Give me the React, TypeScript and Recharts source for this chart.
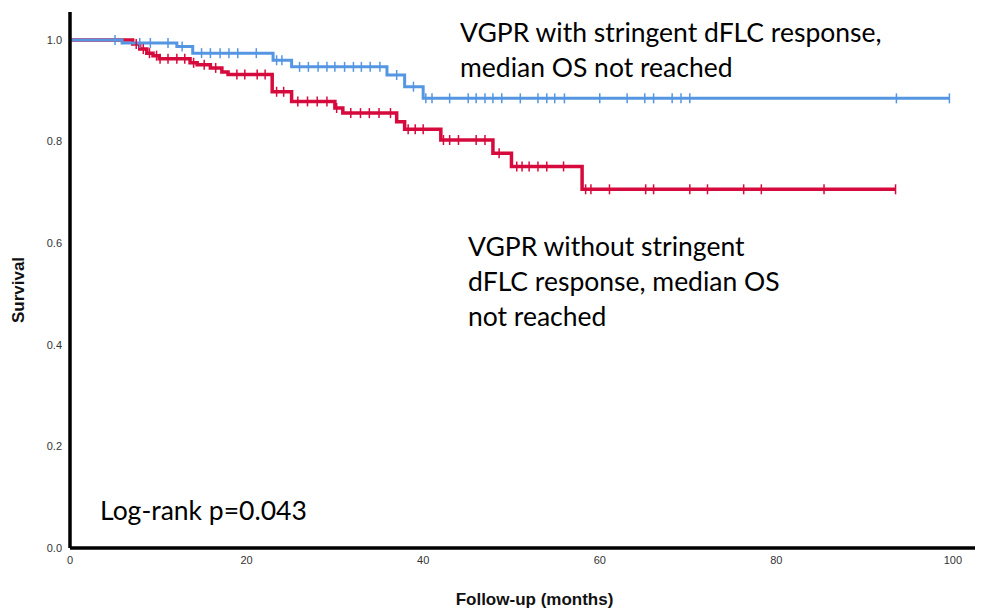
import React from "react";
import {
  ComposedChart,
  Line,
  Scatter,
  XAxis,
  YAxis,
} from "recharts";

// Kaplan-Meier step points (months, survival)
const STRINGENT_T = [0, 5.9, 12.1, 13.9, 23.0, 25.1, 35.9, 37.9, 40.0, 99.6];
const STRINGENT_S = [1.0, 0.994, 0.987, 0.974, 0.96, 0.947, 0.931, 0.908, 0.885, 0.885];

const NON_STRINGENT_T = [
  0, 7.1, 7.9, 8.7, 9.4, 10.1, 13.6, 14.4, 15.9, 17.2, 17.9, 22.9, 25.1, 30.0,
  30.9, 37.0, 37.9, 42.0, 47.9, 50.0, 58.0, 93.5,
];
const NON_STRINGENT_S = [
  1.0, 0.992, 0.982, 0.974, 0.969, 0.963, 0.955, 0.951, 0.945, 0.937, 0.932,
  0.898, 0.879, 0.866, 0.856, 0.839, 0.824, 0.803, 0.777, 0.751, 0.706, 0.706,
];

// censored observations (months)
const STRINGENT_CENSOR = [
  5.1, 7.9, 9.1, 11.1, 12.7, 14.9, 15.9, 17.0, 18.0, 19.0, 21.1, 23.4, 24.0,
  26.0, 27.0, 28.1, 29.1, 30.0, 31.1, 32.1, 33.0, 34.0, 35.1, 37.0, 38.9, 40.3,
  41.0, 43.0, 45.1, 46.0, 47.0, 47.9, 48.9, 51.0, 53.0, 54.0, 54.9, 56.0, 60.0,
  63.1, 65.1, 66.1, 68.2, 69.2, 70.2, 93.6, 99.6,
];
const NON_STRINGENT_CENSOR = [
  7.5, 8.3, 9.0, 9.8, 10.2, 11.1, 12.1, 13.0, 14.0, 15.2, 16.5, 18.9, 19.8,
  21.2, 22.1, 23.4, 24.2, 25.8, 26.9, 28.0, 29.1, 30.2, 31.8, 32.9, 33.9, 35.0,
  36.3, 38.3, 39.1, 40.0, 42.3, 43.0, 44.0, 46.0, 47.0, 48.6, 50.6, 51.2, 52.0,
  53.0, 54.0, 55.9, 58.4, 59.0, 61.1, 65.2, 66.1, 70.2, 72.2, 76.3, 78.3, 85.4,
  93.5,
];

const X_TICKS = [0, 20, 40, 60, 80, 100];
const Y_TICKS = [0, 0.2, 0.4, 0.6, 0.8, 1.0];

const BLUE = "#5596e2";
const RED = "#d60a3c";

const toSteps = (t: number[], s: number[]) => t.map((v, i) => ({ t: v, s: s[i] }));

// survival level of the step curve at a censoring time
const toCensor = (c: number[], t: number[], s: number[]) =>
  c.map((v) => {
    let k = 0;
    for (let i = 0; i < t.length; i++) if (t[i] <= v) k = i;
    return { t: v, s: s[k] };
  });

const stringentSteps = toSteps(STRINGENT_T, STRINGENT_S);
const nonStringentSteps = toSteps(NON_STRINGENT_T, NON_STRINGENT_S);
const stringentCensor = toCensor(STRINGENT_CENSOR, STRINGENT_T, STRINGENT_S);
const nonStringentCensor = toCensor(NON_STRINGENT_CENSOR, NON_STRINGENT_T, NON_STRINGENT_S);

const censorMark = (color: string) => (props: any) => {
  const { cx, cy } = props;
  return (
    <line x1={cx} x2={cx} y1={cy - 5} y2={cy + 5} stroke={color} strokeWidth={1.5} />
  );
};

const note: React.CSSProperties = {
  position: "absolute",
  fontFamily: "Lato, 'Open Sans', sans-serif",
  fontSize: 26.5,
  lineHeight: "35px",
  color: "#000",
  whiteSpace: "nowrap",
};

const tickStyle = { fill: "#333", fontSize: 11, fontFamily: "'Liberation Sans', Arial, sans-serif" };
const titleStyle = { fontFamily: "'Liberation Sans', Arial, sans-serif", fontWeight: "bold", fontSize: 17, fill: "#111" };

export default function App() {
  return (
    <div style={{ position: "absolute", left: 0, top: 0, width: 987, height: 611, background: "#fff" }}>
      <ComposedChart
        width={987}
        height={611}
        margin={{ top: 12, right: 12, left: 30, bottom: 0 }}
      >
        <XAxis
          type="number"
          dataKey="t"
          domain={[0, 102.5]}
          ticks={X_TICKS}
          tickLine={false}
          axisLine={{ stroke: "#000", strokeWidth: 3.5 }}
          tick={tickStyle}
          height={63}
          allowDataOverflow
          label={{
            value: "Follow-up (months)",
            position: "insideBottom",
            offset: 6,
            dx: 12,
            style: titleStyle,
          }}
        />
        <YAxis
          type="number"
          dataKey="s"
          domain={[0, 1.055]}
          ticks={Y_TICKS}
          tickFormatter={(v) => Number(v).toFixed(1)}
          tickLine={false}
          axisLine={{ stroke: "#000", strokeWidth: 3.5 }}
          tick={tickStyle}
          width={40}
          allowDataOverflow
          label={{
            value: "Survival",
            angle: -90,
            position: "insideLeft",
            offset: -12,
            dy: 10,
            style: { ...titleStyle, textAnchor: "middle" },
          }}
        />
        <Line
          data={nonStringentSteps}
          dataKey="s"
          type="stepAfter"
          stroke={RED}
          strokeWidth={3.5}
          dot={false}
          activeDot={false}
          isAnimationActive={false}
        />
        <Line
          data={stringentSteps}
          dataKey="s"
          type="stepAfter"
          stroke={BLUE}
          strokeWidth={3}
          dot={false}
          activeDot={false}
          isAnimationActive={false}
        />
        <Scatter data={nonStringentCensor} shape={censorMark(RED)} isAnimationActive={false} />
        <Scatter data={stringentCensor} shape={censorMark(BLUE)} isAnimationActive={false} />
      </ComposedChart>

      <div style={{ ...note, left: 460, top: 15 }}>
        VGPR with stringent dFLC response,
        <br />
        median OS not reached
      </div>
      <div style={{ ...note, left: 468, top: 229 }}>
        VGPR without stringent
        <br />
        dFLC response, median OS
        <br />
        not reached
      </div>
      <div style={{ ...note, left: 100, top: 493 }}>Log-rank p=0.043</div>
    </div>
  );
}
